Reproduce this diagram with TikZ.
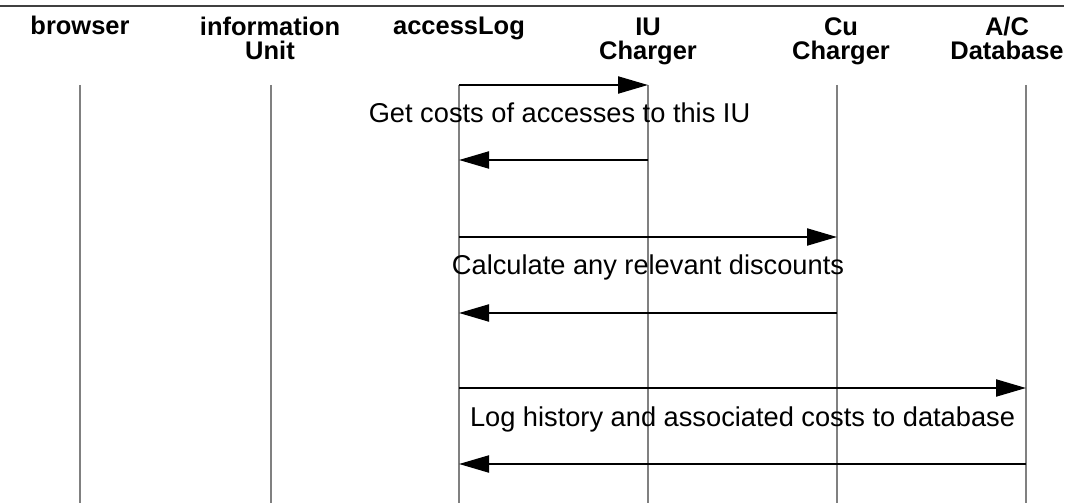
\documentclass[tikz,border=0pt]{standalone}
\usepackage{fontspec}
\setmainfont{Liberation Sans}
\usepackage{xcolor}
\definecolor{LifeGray}{HTML}{808080}
\definecolor{RuleGray}{HTML}{404040}
\usepackage{tikz}
\usetikzlibrary{calc,positioning,arrows.meta}

\begin{document}
\begin{tikzpicture}[x=0.02cm, y=-0.02cm,
  head/.style={font=\fontsize{14.5}{14.2}\selectfont\bfseries, align=center, anchor=base, inner sep=0pt},
  lbl/.style={font=\fontsize{15.5}{18}\selectfont, anchor=base, inner sep=0pt},
  life/.style={LifeGray, line width=0.6pt},
  msg/.style={-{Triangle[length=0.6cm, width=0.34cm]}, line width=1.2pt, black}]
  \useasboundingbox (0,0) rectangle (1075,503);

  % Top rule
  \coordinate (rule-l) at (0,6);
  \coordinate (rule-r) at (1064,6);
  \draw[RuleGray, line width=0.6pt] (rule-l) -- (rule-r);

  % Headers (base = last line)
  \node[head] (brw)  at (80,35)   {browser};
  \node[head] (iu)   at (270,60)  {information\\Unit};
  \node[head] (al)   at (459,35)  {accessLog};
  \node[head] (iuc)  at (648,60)  {IU\\Charger};
  \node[head] (cuc)  at (841,60)  {Cu\\Charger};
  \node[head] (acd)  at (1007,60) {A/C\\Database};

  % Lifelines and message ends
  \foreach \n/\x in {brw/80, iu/271, al/459, iuc/648, cuc/837, acd/1026} {
    \coordinate (\n-top) at (\x,85);
    \coordinate (\n-bot) at (\x,503);
    \draw[life] (\n-top) -- (\n-bot);
    \foreach \r/\y in {1/85, 2/160, 3/237, 4/313, 5/388, 6/464} {
      \coordinate (\n-\r) at (\x,\y);
    }
  }

  % Messages
  \draw[msg] (al-1) -- (iuc-1);
  \node[lbl] (getcosts) at ($(al-1)!0.5!(iuc-1) + (6,38)$) {Get costs of accesses to this IU};
  \draw[msg] (iuc-2) -- (al-2);

  \draw[msg] (al-3) -- (cuc-3);
  \node[lbl] (discounts) at ($(al-3)!0.5!(cuc-3) + (0,38)$) {Calculate any relevant discounts};
  \draw[msg] (cuc-4) -- (al-4);

  \draw[msg] (al-5) -- (acd-5);
  \node[lbl] (loghist) at ($(al-5)!0.5!(acd-5) + (0,38)$) {Log history and associated costs to database};
  \draw[msg] (acd-6) -- (al-6);
\end{tikzpicture}
\end{document}
